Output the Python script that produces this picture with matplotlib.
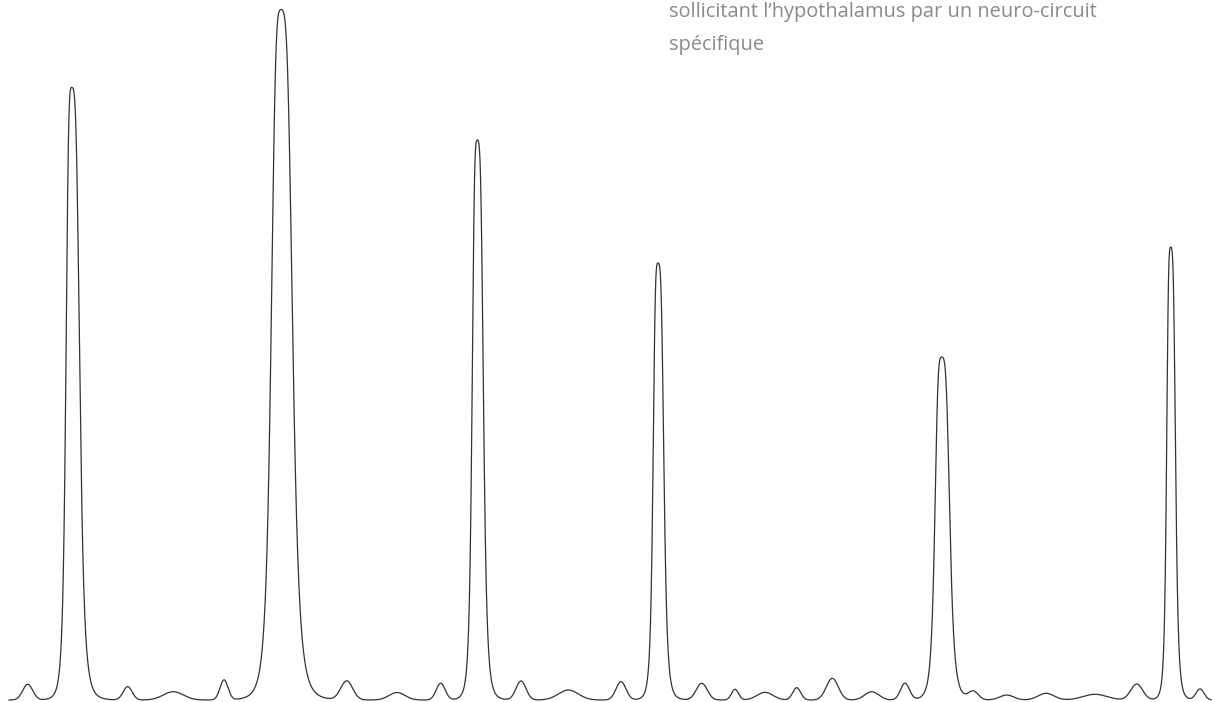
import matplotlib
matplotlib.use("Agg")
import matplotlib.pyplot as plt
import numpy as np

# tall spikes: centre, height, width of rising side, width of falling side (px units)
peak_x = [71.7, 281.0, 477.3, 658.0, 941.7, 1170.7]
peak_h = [612.7, 690.5, 560.0, 437.0, 343.0, 453.0]
peak_wl = [6.2, 10.5, 5.6, 5.3, 7.3, 4.4]
peak_wr = [8.6, 12.4, 6.6, 6.3, 8.6, 5.2]

# small bumps along the baseline
bump_x = [27.7, 127.7, 173.3, 224.0, 346.7, 397.0, 440.7, 521.0, 568.3, 621.0,
          701.7, 735.0, 765.0, 796.7, 832.3, 871.7, 905.0, 973.3, 1006.7,
          1046.0, 1095.0, 1136.7, 1200.0]
bump_h = [15.7, 13.3, 8.3, 20.0, 19.0, 7.5, 16.7, 19.0, 10.0, 18.3,
          16.7, 10.7, 7.7, 12.3, 21.7, 8.3, 16.7, 8.3, 5.0,
          6.7, 5.7, 16.0, 11.0]
bump_w = [5.0, 4.5, 10.0, 4.0, 6.0, 8.0, 4.5, 5.0, 10.0, 5.0,
          5.5, 3.5, 8.0, 4.0, 6.0, 7.0, 4.5, 5.0, 7.0,
          8.0, 12.0, 6.0, 4.0]

caption = ["sollicitant l\u2019hypothalamus par un neuro-circuit", "sp\u00e9cifique"]


def spike(d, w):
    # steep sided pulse, tail damped so it settles on the baseline
    return np.exp(-0.5 * (d / (3 * w)) ** 2) / (1 + (d / w) ** 4)


x = np.linspace(9, 1211, 5000)
y = np.zeros_like(x)
for c, h, wl, wr in zip(peak_x, peak_h, peak_wl, peak_wr):
    d = x - c
    w = np.where(d < 0, wl, wr)
    y += h * spike(np.abs(d), w)
for c, h, w in zip(bump_x, bump_h, bump_w):
    y += h * np.exp(-0.5 * ((x - c) / w) ** 2)

fig = plt.figure(figsize=(12.12, 7.02), dpi=100)
ax = fig.add_axes([0, 0, 1, 1])
ax.plot(x, y, color="#333333", lw=0.9)
ax.set_xlim(0, 1212)
ax.set_ylim(-2, 700)
ax.axis("off")

t1 = fig.text(669 / 1212, 1 - 16.7 / 702, caption[0], family="Open Sans",
              fontsize=14.5, color="#8a8a8a", va="baseline", ha="left")
t2 = fig.text(669 / 1212, 1 - 50 / 702, caption[1], family="Open Sans",
              fontsize=14.5, color="#8a8a8a", va="baseline", ha="left")

# scale the caption so its first line spans the same width as in the picture
fig.canvas.draw()
wpx = t1.get_window_extent().width
size = 14.5 * 427 / wpx
t1.set_fontsize(size)
t2.set_fontsize(size)

fig.savefig("out.png", dpi=100, facecolor="white")
